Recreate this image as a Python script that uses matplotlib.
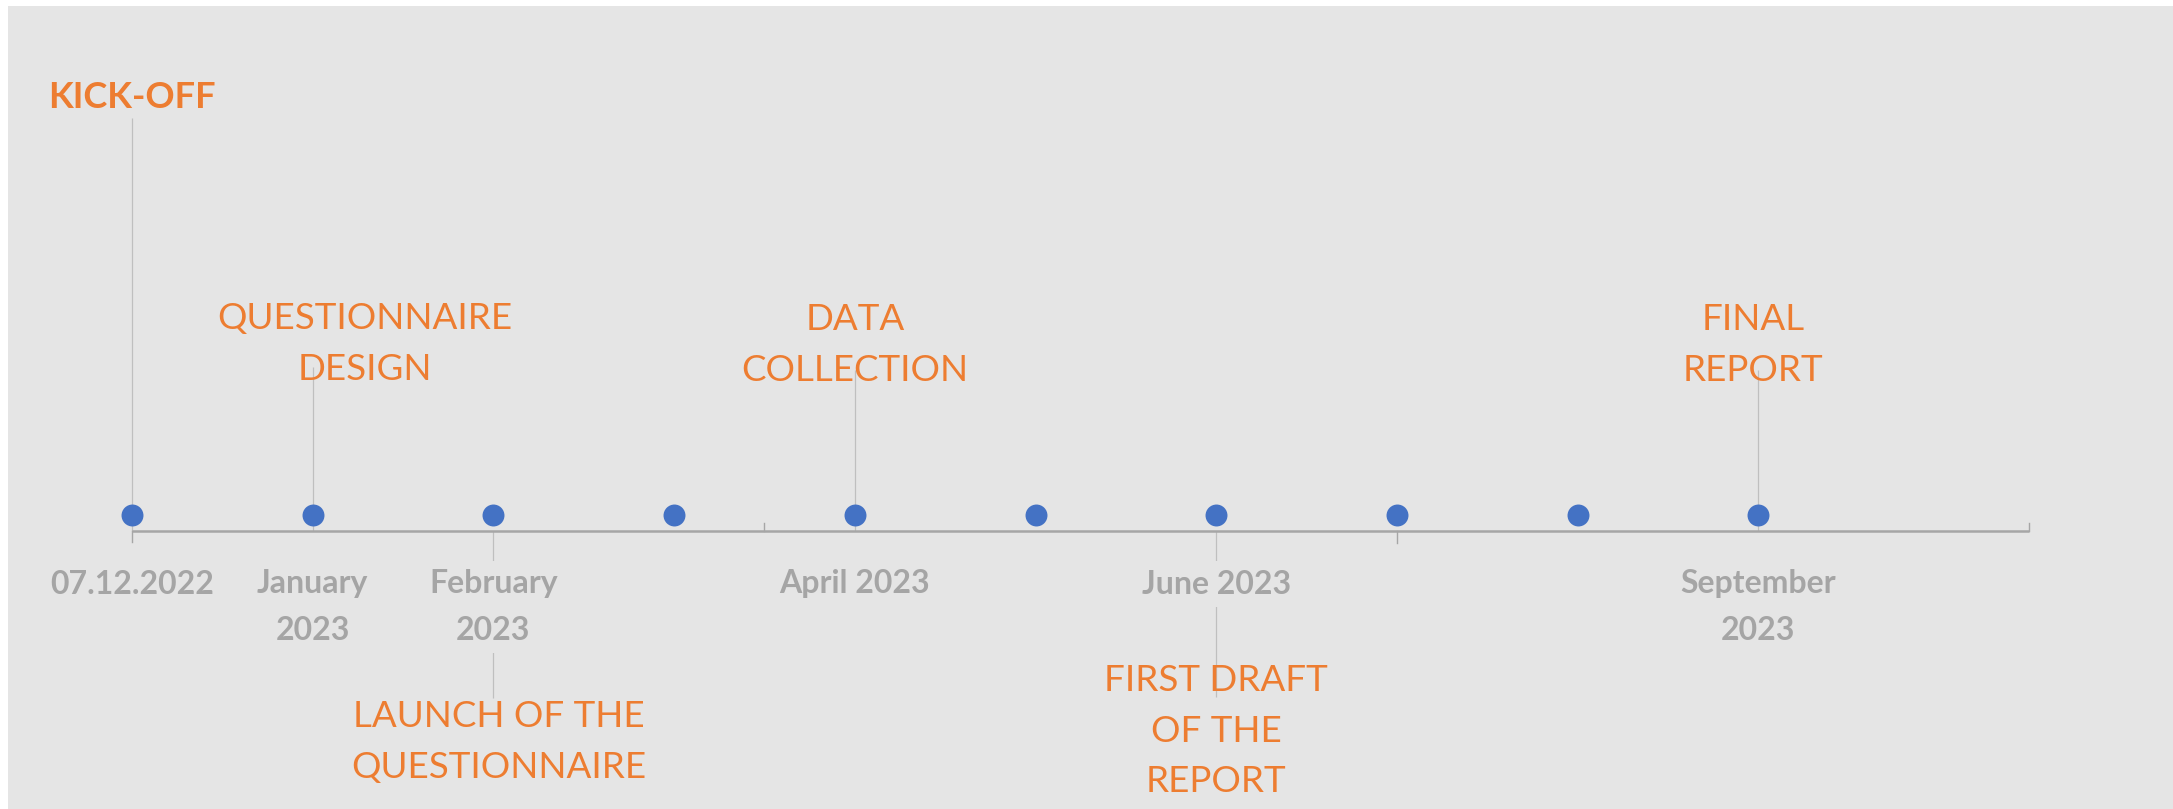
# Timeline chart
import matplotlib
matplotlib.use("Agg")
import matplotlib.pyplot as plt

plt.rcParams['font.family'] = ['Lato', 'DejaVu Sans']

# Data
point_idx = [0, 1, 2, 3, 4, 5, 6, 7, 8, 9]
point_level = [16, 16, 16, 16, 16, 16, 16, 16, 16, 16]

milestone_idx = [0, 1, 2, 4, 6, 9]
milestone_text = ["KICK-OFF", "QUESTIONNAIRE\nDESIGN", "LAUNCH OF THE\nQUESTIONNAIRE",
                  "DATA\nCOLLECTION", "FIRST DRAFT\nOF THE\nREPORT", "FINAL\nREPORT"]
stem_heights = [413, 164, -167, 161, -166, 161]

tick_idx = [0, 1, 2, 4, 6, 9]
tick_text = ["07.12.2022", "January\n2023", "February\n2023", "April 2023",
             "June 2023", "September\n2023"]

# Layout (label offsets relative to the stem ends)
label_dx = [0, 0.29, 0.03, 0, 0, -0.03]
label_dy = [21, 23, -44, 25, -34, 25]
axis_end = 10.5
tick_marks = [(0, -11), (3.5, 8), (7, -12), (10.5, 8)]

bg = '#E5E5E5'
orange = '#ED7D31'
blue = '#4472C4'
grey_txt = '#A5A5A5'
grey_axis = '#A6A6A6'
grey_stem = '#BFBFBF'

W, H = 2173, 809
fig = plt.figure(figsize=(W / 100, H / 100), dpi=100)
fig.patch.set_facecolor('white')
ax = fig.add_axes([8 / W, 0, 1 - 8 / W, 1 - 6 / H])
ax.set_facecolor(bg)
step = 180.7
ax.set_xlim((8 - 132) / step, (W - 132) / step)
ax.set_ylim(531 - H, 531 - 6)
ax.axis('off')
ax.add_patch(plt.Rectangle((0, 0), 1, 1, transform=ax.transAxes, color=bg, zorder=0))

# axe horizontal
ax.plot([0, axis_end], [0, 0], color=grey_axis, lw=1.8, solid_capstyle='butt', zorder=2)
for tx, tl in tick_marks:
    ax.plot([tx, tx], [0, tl], color=grey_axis, lw=1.0, zorder=2)

# tiges
ax.vlines(milestone_idx, 0, stem_heights, color=grey_stem, lw=0.9, zorder=1)

# points
ax.plot(point_idx, point_level, 'o', ms=15.8, color=blue, mec='none', zorder=4)

# étiquettes de l'axe
for x, t in zip(tick_idx, tick_text):
    n = t.count('\n') + 1
    ax.text(x, -53 - (n - 1) * 23, t, ha='center', va='center', fontsize=23,
            fontweight='bold', color=grey_txt, linespacing=1.73, zorder=3,
            bbox=dict(facecolor=bg, edgecolor='none', pad=6))

# étiquettes des jalons
for x, t, h, dx, dy in zip(milestone_idx, milestone_text, stem_heights, label_dx, label_dy):
    bold = t == "KICK-OFF"
    ax.text(x + dx, h + dy, t, ha='center', va='center',
            fontsize=26 if bold else 26.5, fontweight='bold' if bold else 'normal',
            color=orange, linespacing=1.66, zorder=5)

fig.savefig('out.png', dpi=100)
